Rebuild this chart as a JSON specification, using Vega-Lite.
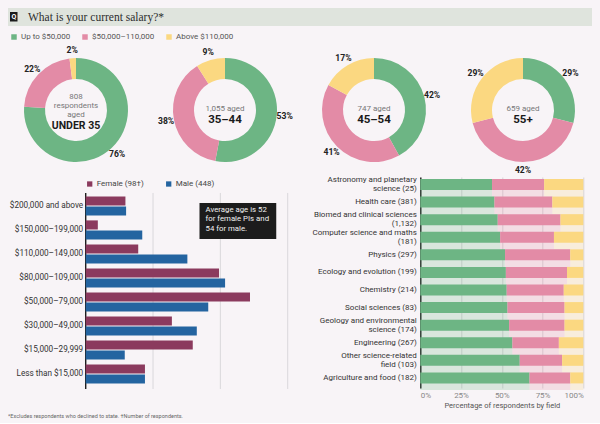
{
  "$schema": "https://vega.github.io/schema/vega-lite/v6.json",
  "padding": {"left": 8, "right": 8, "top": 8, "bottom": 4},
  "background": "#f8f4f7",
  "config": {
    "view": {"stroke": null},
    "font": "Roboto",
    "axis": {"labelFont": "Roboto", "titleFont": "Roboto"},
    "legend": {"labelFont": "Roboto"},
    "title": {"font": "Roboto"}
  },
  "title": {"text": "*Excludes respondents who declined to state. †Number of respondents.", "orient": "bottom", "anchor": "start", "fontSize": 5.5, "fontWeight": "normal", "color": "#666", "offset": 5},
  "datasets": {
    "donuts": [
      {"age": "U35", "band": "Up to $50,000", "pct": 76},
      {"age": "U35", "band": "$50,000–110,000", "pct": 22},
      {"age": "U35", "band": "Above $110,000", "pct": 2},
      {"age": "35-44", "band": "Up to $50,000", "pct": 53},
      {"age": "35-44", "band": "$50,000–110,000", "pct": 38},
      {"age": "35-44", "band": "Above $110,000", "pct": 9},
      {"age": "45-54", "band": "Up to $50,000", "pct": 42},
      {"age": "45-54", "band": "$50,000–110,000", "pct": 41},
      {"age": "45-54", "band": "Above $110,000", "pct": 17},
      {"age": "55+", "band": "Up to $50,000", "pct": 29},
      {"age": "55+", "band": "$50,000–110,000", "pct": 42},
      {"age": "55+", "band": "Above $110,000", "pct": 29}
    ],
    "ages": [
      {"age": "U35", "n": "808\nrespondents\naged", "group": "UNDER 35"},
      {"age": "35-44", "n": "1,055 aged", "group": "35–44"},
      {"age": "45-54", "n": "747 aged", "group": "45–54"},
      {"age": "55+", "n": "659 aged", "group": "55+"}
    ],
    "gender": [
      {"salary": "$200,000 and above", "gender": "Female (98†)", "pct": 5.9},
      {"salary": "$200,000 and above", "gender": "Male (448)", "pct": 6.0},
      {"salary": "$150,000–199,000", "gender": "Female (98†)", "pct": 1.8},
      {"salary": "$150,000–199,000", "gender": "Male (448)", "pct": 8.4},
      {"salary": "$110,000–149,000", "gender": "Female (98†)", "pct": 7.8},
      {"salary": "$110,000–149,000", "gender": "Male (448)", "pct": 15.1},
      {"salary": "$80,000–109,000", "gender": "Female (98†)", "pct": 19.8},
      {"salary": "$80,000–109,000", "gender": "Male (448)", "pct": 20.7},
      {"salary": "$50,000–79,000", "gender": "Female (98†)", "pct": 24.4},
      {"salary": "$50,000–79,000", "gender": "Male (448)", "pct": 18.2},
      {"salary": "$30,000–49,000", "gender": "Female (98†)", "pct": 12.8},
      {"salary": "$30,000–49,000", "gender": "Male (448)", "pct": 16.5},
      {"salary": "$15,000–29,999", "gender": "Female (98†)", "pct": 15.9},
      {"salary": "$15,000–29,999", "gender": "Male (448)", "pct": 5.8},
      {"salary": "Less than $15,000", "gender": "Female (98†)", "pct": 8.8},
      {"salary": "Less than $15,000", "gender": "Male (448)", "pct": 8.8}
    ],
    "fields": [
      {"field": "Astronomy and planetary|science (25)", "band": "Up to $50,000", "pct": 44},
      {"field": "Astronomy and planetary|science (25)", "band": "$50,000–110,000", "pct": 32},
      {"field": "Astronomy and planetary|science (25)", "band": "Above $110,000", "pct": 24},
      {"field": "Health care (381)", "band": "Up to $50,000", "pct": 45.5},
      {"field": "Health care (381)", "band": "$50,000–110,000", "pct": 35.5},
      {"field": "Health care (381)", "band": "Above $110,000", "pct": 19},
      {"field": "Biomed and clinical sciences|(1,132)", "band": "Up to $50,000", "pct": 47.5},
      {"field": "Biomed and clinical sciences|(1,132)", "band": "$50,000–110,000", "pct": 38.5},
      {"field": "Biomed and clinical sciences|(1,132)", "band": "Above $110,000", "pct": 14},
      {"field": "Computer science and maths|(181)", "band": "Up to $50,000", "pct": 49},
      {"field": "Computer science and maths|(181)", "band": "$50,000–110,000", "pct": 33},
      {"field": "Computer science and maths|(181)", "band": "Above $110,000", "pct": 18},
      {"field": "Physics (297)", "band": "Up to $50,000", "pct": 52},
      {"field": "Physics (297)", "band": "$50,000–110,000", "pct": 40},
      {"field": "Physics (297)", "band": "Above $110,000", "pct": 8},
      {"field": "Ecology and evolution (199)", "band": "Up to $50,000", "pct": 52.5},
      {"field": "Ecology and evolution (199)", "band": "$50,000–110,000", "pct": 37.5},
      {"field": "Ecology and evolution (199)", "band": "Above $110,000", "pct": 10},
      {"field": "Chemistry (214)", "band": "Up to $50,000", "pct": 53},
      {"field": "Chemistry (214)", "band": "$50,000–110,000", "pct": 35},
      {"field": "Chemistry (214)", "band": "Above $110,000", "pct": 12},
      {"field": "Social sciences (83)", "band": "Up to $50,000", "pct": 53.5},
      {"field": "Social sciences (83)", "band": "$50,000–110,000", "pct": 35},
      {"field": "Social sciences (83)", "band": "Above $110,000", "pct": 11.5},
      {"field": "Geology and environmental|science (174)", "band": "Up to $50,000", "pct": 54.5},
      {"field": "Geology and environmental|science (174)", "band": "$50,000–110,000", "pct": 34},
      {"field": "Geology and environmental|science (174)", "band": "Above $110,000", "pct": 11.5},
      {"field": "Engineering (267)", "band": "Up to $50,000", "pct": 56.5},
      {"field": "Engineering (267)", "band": "$50,000–110,000", "pct": 28.5},
      {"field": "Engineering (267)", "band": "Above $110,000", "pct": 15},
      {"field": "Other science-related|field (103)", "band": "Up to $50,000", "pct": 61},
      {"field": "Other science-related|field (103)", "band": "$50,000–110,000", "pct": 26},
      {"field": "Other science-related|field (103)", "band": "Above $110,000", "pct": 13},
      {"field": "Agriculture and food (182)", "band": "Up to $50,000", "pct": 67},
      {"field": "Agriculture and food (182)", "band": "$50,000–110,000", "pct": 25},
      {"field": "Agriculture and food (182)", "band": "Above $110,000", "pct": 8}
    ]
  },
  "resolve": {"scale": {"color": "independent"}, "legend": {"color": "independent"}},
  "spacing": 7,
  "vconcat": [
    {
      "width": 584, "height": 18,
      "view": {"fill": "#dfe4dd", "stroke": null},
      "data": {"values": [{"title": "What is your current salary?*"}]},
      "layer": [
        {"mark": {"type": "rect", "color": "#1b1b1b"}, "encoding": {"x": {"value": 2}, "x2": {"value": 9.5}, "y": {"value": 4}, "y2": {"value": 13.5}}},
        {"mark": {"type": "text", "text": "Q", "color": "#ffffff", "fontSize": 7, "fontWeight": "bold", "baseline": "middle"}, "encoding": {"x": {"value": 5.8}, "y": {"value": 9}}},
        {"mark": {"type": "text", "align": "left", "baseline": "middle", "font": "Liberation Serif", "fontSize": 11.5, "color": "#2d2d2d"}, "encoding": {"x": {"value": 20}, "y": {"value": 9.5}, "text": {"field": "title"}}}
      ]
    },
    {
      "spacing": 0,
      "resolve": {"scale": {"color": "independent"}, "legend": {"color": "independent"}},
      "vconcat": [
        {
          "bounds": "flush",
          "spacing": 13,
          "resolve": {"scale": {"color": "independent"}, "legend": {"color": "independent"}},
          "hconcat": [
            {
              "width": 136, "height": 120,
              "layer": [
                {
                  "data": {"name": "donuts"},
                  "transform": [{"filter": "datum.age == 'U35'"}, {"calculate": "indexof(['Up to $50,000','$50,000–110,000','Above $110,000'], datum.band)", "as": "k"}, {"calculate": "datum.pct + '%'", "as": "lab"}],
                  "layer": [
                    {"mark": {"type": "arc", "innerRadius": 31, "outerRadius": 52}, "encoding": {"theta": {"field": "pct", "type": "quantitative", "stack": true}, "order": {"field": "k", "type": "quantitative"}, "color": {"field": "band", "type": "nominal", "scale": {"domain": ["Up to $50,000", "$50,000–110,000", "Above $110,000"], "range": ["#6db584", "#e38ba6", "#fbd881"]}, "legend": {"orient": "none", "direction": "horizontal", "legendX": 2, "legendY": -17, "title": null, "symbolType": "square", "symbolSize": 30, "symbolStrokeWidth": 0, "labelFontSize": 8, "labelColor": "#555", "columnPadding": 10, "labelOffset": 3, "padding": 0}}}},
                    {"mark": {"type": "text", "radius": 60, "fontWeight": "bold", "fontSize": 8.6, "color": "#222"}, "encoding": {"theta": {"field": "pct", "type": "quantitative", "stack": true}, "order": {"field": "k", "type": "quantitative"}, "text": {"field": "lab"}}}
                  ]
                },
                {
                  "data": {"name": "ages"},
                  "transform": [{"filter": "datum.age == 'U35'"}],
                  "layer": [
                    {"mark": {"type": "text", "lineBreak": "\n", "lineHeight": 9, "baseline": "top", "dy": -17, "fontSize": 8, "color": "#777"}, "encoding": {"text": {"field": "n"}}},
                    {"mark": {"type": "text", "baseline": "middle", "dy": 16, "fontSize": 10.5, "fontWeight": "bold", "color": "#1a1a1a"}, "encoding": {"text": {"field": "group"}}}
                  ]
                }
              ]
            },
            {
              "width": 136, "height": 120,
              "layer": [
                {
                  "data": {"name": "donuts"},
                  "transform": [{"filter": "datum.age == '35-44'"}, {"calculate": "indexof(['Up to $50,000','$50,000–110,000','Above $110,000'], datum.band)", "as": "k"}, {"calculate": "datum.pct + '%'", "as": "lab"}],
                  "layer": [
                    {"mark": {"type": "arc", "innerRadius": 31, "outerRadius": 52}, "encoding": {"theta": {"field": "pct", "type": "quantitative", "stack": true}, "order": {"field": "k", "type": "quantitative"}, "color": {"field": "band", "type": "nominal", "scale": {"domain": ["Up to $50,000", "$50,000–110,000", "Above $110,000"], "range": ["#6db584", "#e38ba6", "#fbd881"]}, "legend": null}}},
                    {"mark": {"type": "text", "radius": 60, "fontWeight": "bold", "fontSize": 8.6, "color": "#222"}, "encoding": {"theta": {"field": "pct", "type": "quantitative", "stack": true}, "order": {"field": "k", "type": "quantitative"}, "text": {"field": "lab"}}}
                  ]
                },
                {
                  "data": {"name": "ages"},
                  "transform": [{"filter": "datum.age == '35-44'"}],
                  "layer": [
                    {"mark": {"type": "text", "lineBreak": "\n", "lineHeight": 9, "baseline": "top", "dy": -5, "fontSize": 8, "color": "#777"}, "encoding": {"text": {"field": "n"}}},
                    {"mark": {"type": "text", "baseline": "middle", "dy": 10, "fontSize": 11.5, "fontWeight": "bold", "color": "#1a1a1a"}, "encoding": {"text": {"field": "group"}}}
                  ]
                }
              ]
            },
            {
              "width": 136, "height": 120,
              "layer": [
                {
                  "data": {"name": "donuts"},
                  "transform": [{"filter": "datum.age == '45-54'"}, {"calculate": "indexof(['Up to $50,000','$50,000–110,000','Above $110,000'], datum.band)", "as": "k"}, {"calculate": "datum.pct + '%'", "as": "lab"}],
                  "layer": [
                    {"mark": {"type": "arc", "innerRadius": 31, "outerRadius": 52}, "encoding": {"theta": {"field": "pct", "type": "quantitative", "stack": true}, "order": {"field": "k", "type": "quantitative"}, "color": {"field": "band", "type": "nominal", "scale": {"domain": ["Up to $50,000", "$50,000–110,000", "Above $110,000"], "range": ["#6db584", "#e38ba6", "#fbd881"]}, "legend": null}}},
                    {"mark": {"type": "text", "radius": 60, "fontWeight": "bold", "fontSize": 8.6, "color": "#222"}, "encoding": {"theta": {"field": "pct", "type": "quantitative", "stack": true}, "order": {"field": "k", "type": "quantitative"}, "text": {"field": "lab"}}}
                  ]
                },
                {
                  "data": {"name": "ages"},
                  "transform": [{"filter": "datum.age == '45-54'"}],
                  "layer": [
                    {"mark": {"type": "text", "lineBreak": "\n", "lineHeight": 9, "baseline": "top", "dy": -5, "fontSize": 8, "color": "#777"}, "encoding": {"text": {"field": "n"}}},
                    {"mark": {"type": "text", "baseline": "middle", "dy": 10, "fontSize": 11.5, "fontWeight": "bold", "color": "#1a1a1a"}, "encoding": {"text": {"field": "group"}}}
                  ]
                }
              ]
            },
            {
              "width": 136, "height": 120,
              "layer": [
                {
                  "data": {"name": "donuts"},
                  "transform": [{"filter": "datum.age == '55+'"}, {"calculate": "indexof(['Up to $50,000','$50,000–110,000','Above $110,000'], datum.band)", "as": "k"}, {"calculate": "datum.pct + '%'", "as": "lab"}],
                  "layer": [
                    {"mark": {"type": "arc", "innerRadius": 31, "outerRadius": 52}, "encoding": {"theta": {"field": "pct", "type": "quantitative", "stack": true}, "order": {"field": "k", "type": "quantitative"}, "color": {"field": "band", "type": "nominal", "scale": {"domain": ["Up to $50,000", "$50,000–110,000", "Above $110,000"], "range": ["#6db584", "#e38ba6", "#fbd881"]}, "legend": null}}},
                    {"mark": {"type": "text", "radius": 60, "fontWeight": "bold", "fontSize": 8.6, "color": "#222"}, "encoding": {"theta": {"field": "pct", "type": "quantitative", "stack": true}, "order": {"field": "k", "type": "quantitative"}, "text": {"field": "lab"}}}
                  ]
                },
                {
                  "data": {"name": "ages"},
                  "transform": [{"filter": "datum.age == '55+'"}],
                  "layer": [
                    {"mark": {"type": "text", "lineBreak": "\n", "lineHeight": 9, "baseline": "top", "dy": -5, "fontSize": 8, "color": "#777"}, "encoding": {"text": {"field": "n"}}},
                    {"mark": {"type": "text", "baseline": "middle", "dy": 10, "fontSize": 11.5, "fontWeight": "bold", "color": "#1a1a1a"}, "encoding": {"text": {"field": "group"}}}
                  ]
                }
              ]
            }
          ]
        },
        {
          "bounds": "flush",
          "spacing": 76.7,
          "resolve": {"scale": {"color": "independent"}, "legend": {"color": "independent"}},
          "hconcat": [
            {"width": 1, "height": 1, "data": {"values": []}, "mark": {"type": "point", "opacity": 0}},
            {
              "bounds": "flush",
              "spacing": 132.6,
              "resolve": {"scale": {"color": "independent"}, "legend": {"color": "independent"}},
              "hconcat": [
                {
                  "width": 202, "height": 211,
                  "layer": [
                    {
                      "data": {"values": [{"g": 0}, {"g": 10}, {"g": 20}, {"g": 30}]},
                      "mark": {"type": "rule", "yOffset": -13, "y2Offset": 15},
                      "encoding": {
                        "x": {"field": "g", "type": "quantitative", "scale": {"domain": [0, 30]}, "axis": null},
                        "y": {"datum": "$200,000 and above", "type": "nominal"},
                        "y2": {"datum": "Less than $15,000"},
                        "color": {"condition": {"test": "datum.g == 0", "value": "#1e1e1e"}, "value": "#d2d0d4"},
                        "strokeWidth": {"condition": {"test": "datum.g == 0", "value": 1.4}, "value": 0.8}
                      }
                    },
                    {
                      "data": {"name": "gender"},
                      "mark": {"type": "bar"},
                      "encoding": {
                        "y": {"field": "salary", "type": "nominal", "sort": null, "scale": {"domain": ["$200,000 and above", "$150,000–199,000", "$110,000–149,000", "$80,000–109,000", "$50,000–79,000", "$30,000–49,000", "$15,000–29,999", "Less than $15,000"], "paddingInner": 0.2, "paddingOuter": 0.4958, "align": 0.815}, "axis": {"title": null, "ticks": false, "domain": false, "labelPadding": 3, "labelFontSize": 8.2, "labelColor": "#333"}},
                        "x": {"field": "pct", "type": "quantitative", "scale": {"domain": [0, 30]}, "axis": {"values": [0, 10, 20, 30], "labelExpr": "datum.value + '%'", "grid": false, "domain": false, "ticks": false, "labelFontSize": 8, "labelColor": "#888", "labelPadding": 3, "title": "Percentage of principal investigators (PI) by gender", "titleFontSize": 7.5, "titleFontWeight": "normal", "titleColor": "#555", "titlePadding": 2}},
                        "yOffset": {"field": "gender", "type": "nominal", "sort": ["Female (98†)", "Male (448)"], "scale": {"paddingInner": 0.1, "paddingOuter": 0}},
                        "color": {"field": "gender", "type": "nominal", "scale": {"domain": ["Female (98†)", "Male (448)"], "range": ["#8b3a5e", "#2464a0"]}, "legend": {"orient": "none", "direction": "horizontal", "legendX": 0, "legendY": 3, "title": null, "symbolType": "square", "symbolSize": 28, "symbolStrokeWidth": 0, "labelFontSize": 8, "labelColor": "#444", "columnPadding": 20, "labelOffset": 3, "padding": 0}}
                      }
                    },
                    {
                      "data": {"values": [{"note": "Average age is 52|for female PIs and|54 for male."}]},
                      "layer": [
                        {"mark": {"type": "bar", "color": "#1c1c1c", "height": 36, "yOffset": 15}, "encoding": {"x": {"datum": 16.9, "type": "quantitative"}, "x2": {"datum": 28.3}, "y": {"datum": "$200,000 and above", "type": "nominal"}}},
                        {"mark": {"type": "text", "align": "left", "baseline": "top", "lineBreak": "|", "lineHeight": 9.3, "fontSize": 7.8, "color": "#f2f2f2", "dy": 0}, "encoding": {"x": {"datum": 17.8, "type": "quantitative"}, "y": {"datum": "$200,000 and above", "type": "nominal"}, "text": {"field": "note"}}}
                      ]
                    }
                  ]
                },
                {
                  "width": 163, "height": 211,
                  "data": {"name": "fields"},
                  "transform": [{"calculate": "indexof(['Up to $50,000','$50,000–110,000','Above $110,000'], datum.band)", "as": "k"}],
                  "encoding": {
                    "y": {"field": "field", "type": "nominal", "sort": null, "scale": {"paddingInner": 0, "paddingOuter": 0}, "axis": {"title": null, "ticks": false, "domain": true, "domainColor": "#1e1e1e", "domainWidth": 1.4, "labelPadding": 4, "labelFontSize": 8, "labelColor": "#333", "labelExpr": "split(datum.label, '|')", "labelLineHeight": 9, "labelOffset": {"condition": {"test": "indexof(datum.label, '|') >= 0", "value": -5.8}, "value": -1.3}}},
                    "x": {"field": "pct", "type": "quantitative", "stack": "normalize", "scale": {"domain": [0, 1]}, "axis": {"values": [0, 0.25, 0.5, 0.75, 1], "format": ".0%", "grid": true, "gridColor": "#c9c6ca", "gridWidth": 0.7, "domain": false, "ticks": false, "labelFontSize": 8, "labelColor": "#888", "labelPadding": 3, "title": "Percentage of respondents by field", "titleFontSize": 7.5, "titleFontWeight": "normal", "titleColor": "#555", "titlePadding": 2}},
                    "color": {"field": "band", "type": "nominal", "scale": {"domain": ["Up to $50,000", "$50,000–110,000", "Above $110,000"], "range": ["#6db584", "#e38ba6", "#fbd881"]}, "legend": null},
                    "order": {"field": "k", "type": "quantitative"}
                  },
                  "layer": [
                    {"mark": {"type": "bar", "height": {"band": 1}, "yOffset": 2, "opacity": 0.22}},
                    {"mark": {"type": "bar", "height": {"band": 0.625}, "yOffset": -1.3}}
                  ]
                }
              ]
            }
          ]
        }
      ]
    }
  ]
}
